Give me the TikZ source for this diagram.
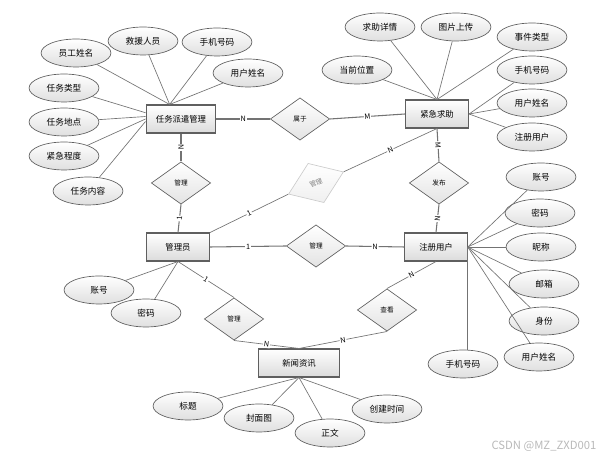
\documentclass[tikz,border=0pt]{standalone}
\usepackage{fontspec}
\setmainfont{Noto Sans CJK SC}
\usepackage{tikz}
\usetikzlibrary{shapes.geometric}
\definecolor{bordercolor}{RGB}{95,95,95}
\definecolor{linecolor}{RGB}{115,115,115}

\begin{document}
\begin{tikzpicture}[
    x=0.02646cm, y=-0.02646cm,
    entity/.style={draw=bordercolor, line width=0.8pt, top color=white, bottom color=gray!28, minimum width=1.85cm, minimum height=0.74cm, inner sep=1pt, font=\fontsize{6.3}{8}\selectfont},
    attr/.style={ellipse, draw=bordercolor, line width=0.5pt, top color=white, bottom color=gray!25, minimum width=1.85cm, minimum height=0.74cm, inner sep=0pt, font=\fontsize{6.5}{8}\selectfont},
    rel/.style={diamond, draw=bordercolor, line width=0.5pt, top color=white, bottom color=gray!22, minimum width=1.57cm, minimum height=1.12cm, inner sep=0pt, font=\fontsize{5}{6}\selectfont},
    link/.style={draw=linecolor, line width=0.5pt},
    rlink/.style={draw=linecolor, line width=0.8pt},
    card/.style={midway, sloped, fill=white, inner sep=0.6pt, font=\fontsize{5.5}{6}\selectfont}
]
    \useasboundingbox (0,0) rectangle (602,457);

    % Entities
    \node[entity] (task) at (181,119) {任务派遣管理};
    \node[entity, minimum width=1.67cm] (help) at (437,114) {紧急求助};
    \node[entity, minimum width=1.67cm] (admin) at (178,247) {管理员};
    \node[entity, minimum width=1.65cm] (user) at (436,247) {注册用户};
    \node[entity, minimum width=2.12cm] (news) at (299,363) {新闻资讯};

    % Relations
    \node[rel] (belong) at (300,119) {属于};
    \node[rel] (mtask) at (181,183) {管理};
    \node[rel, rotate=22, draw=gray!40, bottom color=gray!12, text=gray] (mhelp) at (316,183) {管理};
    \node[rel] (post) at (439,183) {发布};
    \node[rel] (muser) at (316,246) {管理};
    \node[rel] (mnews) at (234,319) {管理};
    \node[rel] (view) at (387,310) {查看};

    % Attributes of task dispatch
    \node[attr] (tname) at (76,53) {员工姓名};
    \node[attr] (trescue) at (143,41) {救援人员};
    \node[attr] (tphone) at (217,42) {手机号码};
    \node[attr] (tuser) at (248,73) {用户姓名};
    \node[attr] (ttype) at (64,88) {任务类型};
    \node[attr] (tplace) at (64,122) {任务地点};
    \node[attr] (tlevel) at (64,156) {紧急程度};
    \node[attr] (tcontent) at (88,191) {任务内容};
    \draw[link] (task.128) -- (tname);
    \draw[link] (task.128) -- (trescue);
    \draw[link] (task.128) -- (tphone);
    \draw[link] (task.128) -- (tuser);
    \draw[link] (task.170) -- (ttype);
    \draw[link] (task.176) -- (tplace);
    \draw[link] (task.west) -- (tlevel);
    \draw[link] (task.184) -- (tcontent);

    % Attributes of emergency help
    \node[attr] (hdetail) at (380,27) {求助详情};
    \node[attr] (hpicture) at (456,27) {图片上传};
    \node[attr] (htype) at (532,37) {事件类型};
    \node[attr] (hplace) at (357,70) {当前位置};
    \node[attr] (hphone) at (532,70) {手机号码};
    \node[attr] (huser) at (532,103) {用户姓名};
    \node[attr] (hreg) at (532,137) {注册用户};
    \draw[link] (help.north) -- (hdetail);
    \draw[link] (help.north) -- (hpicture);
    \draw[link] (help.north) -- (htype);
    \draw[link] (help.north) -- (hplace);
    \draw[link] (help.east) -- (hphone);
    \draw[link] (help.east) -- (huser);
    \draw[link] (help.east) -- (hreg);

    % Attributes of registered user
    \node[attr] (uaccount) at (541,177) {账号};
    \node[attr] (upass) at (540,213) {密码};
    \node[attr] (unick) at (541,247) {昵称};
    \node[attr] (umail) at (544,284) {邮箱};
    \node[attr] (urole) at (544,321) {身份};
    \node[attr] (uname) at (539,357) {用户姓名};
    \node[attr] (uphone) at (463,364) {手机号码};
    \draw[link] (user.east) -- (uaccount);
    \draw[link] (user.east) -- (upass);
    \draw[link] (user.east) -- (unick);
    \draw[link] (user.east) -- (umail);
    \draw[link] (user.east) -- (urole);
    \draw[link] (user.east) -- (uname);
    \draw[link] (user.east) -- (user.east |- uphone.north);

    % Attributes of admin
    \node[attr] (aaccount) at (99,290) {账号};
    \node[attr] (apass) at (146,313) {密码};
    \draw[link] (admin.south) -- (aaccount);
    \draw[link] (admin.south) -- (apass);

    % Attributes of news
    \node[attr] (ntitle) at (188,406) {标题};
    \node[attr] (ncover) at (259,418) {封面图};
    \node[attr] (ntext) at (330,433) {正文};
    \node[attr] (ntime) at (387,409) {创建时间};
    \draw[link] (news.south) -- (ntitle);
    \draw[link] (news.south) -- (ncover);
    \draw[link] (news.south) -- (ntext);
    \draw[link] (news.south) -- (ntime);

    % Relation lines
    \draw[rlink] (task.east) -- node[card] {N} (belong.west);
    \draw[rlink] (belong.east) -- node[card] {M} (help.west);
    \draw[rlink] (task.south) -- node[card] {N} (mtask.north);
    \draw[rlink] (mtask.south) -- node[card] {1} (admin.north);
    \draw[link] (admin.north east) -- node[card] {1} (mhelp.west);
    \draw[link] (mhelp.east) -- node[card] {N} (help.south);
    \draw[rlink] (help.south) -- node[card] {M} (post.north);
    \draw[rlink] (post.south) -- node[card] {N} (user.north);
    \draw[rlink] (admin.east) -- node[card] {1} (muser.west);
    \draw[rlink] (muser.east) -- node[card] {N} (user.west);
    \draw[link] (admin.south) -- node[card] {1} (mnews.north);
    \draw[link] (mnews.south) -- node[card] {N} (news.north);
    \draw[link] (view.north) -- node[card] {N} (user.south);
    \draw[link] (view.south) -- node[card] {N} (news.north);

    % Watermark
    \node[text=gray!55, font=\fontsize{8.5}{10}\selectfont] (mark) at (544,446) {CSDN @MZ\_ZXD001};
\end{tikzpicture}
\end{document}
